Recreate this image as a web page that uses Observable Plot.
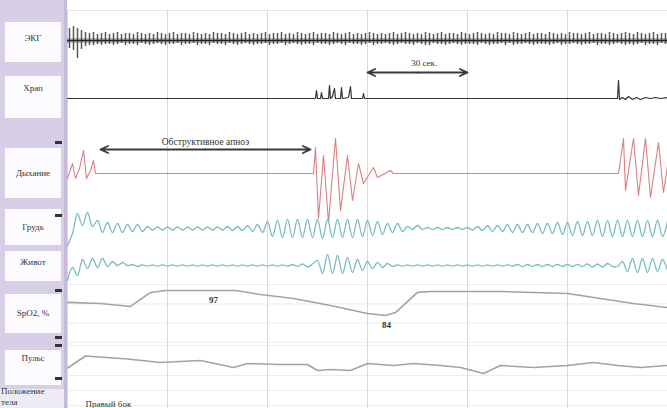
<!DOCTYPE html>
<html><head><meta charset="utf-8">
<script src="https://cdn.jsdelivr.net/npm/d3@7"></script>
<script src="https://cdn.jsdelivr.net/npm/@observablehq/plot@0.6"></script>
<style>
body{margin:0;background:#fff;}
#wrap{position:relative;width:667px;height:408px;overflow:hidden;font-family:"Liberation Serif",serif;background:#fff;}
#chart{position:absolute;left:0;top:0;}
#panel{position:absolute;left:0;top:0;width:64px;height:408px;background:#d8cee7;border-right:3px solid #c6b9dc;z-index:2;}
.box{position:absolute;left:5px;width:56px;background:#fcfbff;}
.lbl{position:absolute;left:0;width:66px;text-align:center;font-size:9px;color:#333;white-space:nowrap;}
.mk{position:absolute;left:55px;width:7px;height:3px;background:#333;}
</style></head><body>
<div id="wrap"><div id="chart"></div><div id="panel"></div></div>
<script>
// ---- channel labels ----
const channelLabels = ["ЭКГ","Храп","Дыхание","Грудь","Живот","SpO2, %","Пульс"];
const positionLabel = ["Положение","тела"];
const positionValue = "Правый бок";

// ---- grid (seconds) ----
const gridSeconds = [0,30,60,90,120,150];
const spo2GridPct = [100,90,80,70];
const pulseGridBpm = [80,60,50,40];

// ---- ECG: beats every 1.2 s, R (up) and S (down) deflections ----
const ecgR = [12,14,12,10,8,7,8,6,7,8, 6,7,8,6,7,7,6,8,7,6, 7,6,8,7,6,7,8,6,7,7, 6,8,7,6,7,6,8,7,7,6,
  8,7,6,7,8,6,7,6,7,8, 6,7,7,8,6,7,6,8,7,6, 7,8,6,7,7,6,8,7,6,7, 8,6,7,6,7,8,7,6,7,6,
  7,8,6,7,8,7,6,7,6,8, 7,6,7,8,6,7,7,6,8,7, 6,7,8,7,6,7,6,8,7,7, 6,8,7,6,7,8,6,7,7,6,
  8,7,6,7,6,8,7,7,6,7, 8,6,7,7,6,8,7,6,7,8, 7,6,8,7,6,7,8,6,7,7];
const ecgS = [8,10,18,9,6,5,5,4,5,4, 4,5,4,3,5,4,4,5,3,4, 5,4,3,4,5,4,4,3,5,4, 4,3,5,4,4,5,3,4,4,5,
  3,4,5,4,3,4,5,4,4,3, 5,4,4,3,5,4,3,4,5,4, 4,5,3,4,4,5,4,3,4,5, 3,4,4,5,4,3,5,4,4,3,
  4,5,4,3,4,4,5,3,4,5, 5,3,4,4,5,4,3,4,5,4, 4,4,5,3,4,5,4,4,3,5, 3,5,4,4,3,4,5,4,4,4,
  5,4,3,5,4,4,3,4,5,4, 4,3,5,4,4,5,4,3,4,5, 4,5,4,3,5,4,4,5,3,4];

// ---- Snoring (time s, amplitude) ----
const snoreT = [0,73.8,74.4,74.7,75,75.9,76.2,76.5,78.3,78.6,78.9,79.5,80.1,80.4,81.9,82.2,82.5,84.3,84.9,85.2,88.5,88.8,89.1,165,165.3,165.6,166.5,167.4,168.3,169.5,170.7,171.9,173.4,174.9,176.4,177.9,180];
const snoreV = [0,0,0,8,0,0,6,0,0,13,0,2,10,0,0,11,0,1,12,0,0,5,0,0,18,-1,1,-1,2,-1,1,-1,1,0,1,0,1];

// ---- Airflow "Дыхание" (time s, amplitude) ----
const respT = [0,1.5,2.4,3.6,4.8,5.7,6.9,7.8,8.4,73.8,74.4,75.3,76.8,78.3,80.4,81.9,84,85.5,87.3,88.8,91.8,93,96.9,97.8,165.3,165.9,166.8,167.4,169.8,171.3,173.4,174.9,177.3,178.8,180];
const respV = [-5,10,-5,5,23,-5,3,13,0,0,26,-45,18,-49,35,-37,18,-27,10,-10,6,-4,3,0,0,13,35,-17,35,-22,35,-24,31,-19,8];

// ---- Chest effort "Грудь", sampled every 1.5 s ----
const chest = [-17,-5,15,3,16,2,8,-4,6,-4, 5,-4,4,-3,4,-3,2,-1.5,1.5,-1.5,
  1.5,-1.5,1.5,-1.5,1.5,-1.5,1.5,-1.5,1.5,-1.5, 1.5,-1.5,2,-2,2,-2,3,-3,4,-4,
  7,-8,8,-9,9,-9,9,-9,9,-9, 9,-10,9,-9,9,-9,9,-9,9,-8,
  8,-7,7,-6,5,-4,5,-3,2,-1, 3,-1,1,-1,1,-1,1,-1,1,-1,
  1,-1.5,2,-2,3,-3,3,-3,4,-4, 4,-4,4,-4,5,-5,5,-5,6,-6,
  6,-7,7,-7,7,-7,8,-8,8,-8, 8,-8,8,-8,8,-8,8,-8,8,-8, 7];

// ---- Abdominal effort "Живот", sampled every 1.5 s ----
const abdomen = [-15,-2,-10,6,-3,7,-2,7,-1,4, 0,3,0,1,-1,0.7,-0.7,0.7,-0.7,0.7,
  -0.7,0.7,-0.7,0.7,-0.7,0.7,-0.7,0.7,-0.7,0.7, -0.7,0.7,-0.7,0.7,-0.7,0.7,-0.7,0.7,-0.7,0.7,
  -0.7,0.7,-0.7,0.7,-0.7,1,-1,1.5,-1.5,1.5, 5,-8,11,-8,10,-8,8,-7,6,-5,
  4,-3,3,-2,2,-1,0.7,-0.7,0.7,-0.7, 0.7,-0.7,0.7,-0.7,0.7,-0.7,0.7,-0.7,0.7,-0.7,
  0.7,-0.7,0.7,-0.7,0.7,-0.7,0.7,-0.7,0.7,-0.7, 1,-1,1,-1,1,-1,1,-1,1,-1,
  1.2,-1.2,1.2,-1.2,1.5,-1.5,1.5,-1.5,2,-1, -1,4,-6,7,-7,7,-7,7,-6,6, -5];

// ---- SpO2 (%) ----
const spo2T = [0,9.9,18.9,24.9,29.4,50.4,57.9,67.8,78.9,90,95.4,98.4,105,108.9,129.9,150,159.9,169.8,180];
const spo2V = [90.8,90.2,88.7,96,97,97,94.9,92.8,89.2,85,84,85.5,96,96.5,96.5,95.4,92.8,90.2,88.1];
const spo2Marks = [{t:43.8, v:97, label:"97"},{t:95.7, v:84, label:"84"}];

// ---- Pulse (bpm) ----
const pulseT = [0,5.4,18,27.9,39.9,49.8,54,63.9,72,75,78.9,84.9,90,97.8,103.8,111.9,117.9,124.8,129.9,139.8,150,157.8,165,171.9,180];
const pulseV = [65,73,71,68.7,70,65.3,68,67.3,67.3,63.3,64,63.3,68,66.7,68,66.7,65.3,61.3,66.7,65.3,66.7,68.7,66.7,65.3,66.7];

// ---- annotations ----
const apnea = {start: 9.9, end: 72.9, label: "Обструктивное апноэ"};
const scaleBar = {start: 90, end: 120, label: "30 сек."};

// ---- trace layout (vertical positions in px) ----
const L = {ecg:40, snore:98, resp:173, chest:228, abd:265, spo2Top:290, spo2Ref:97, spo2Gain:1.92, pulseMid:360, pulseRef:70, pulseGain:1.5};
const ySpo2 = v => L.spo2Top + (L.spo2Ref - v) * L.spo2Gain;
const yPulse = v => L.pulseMid - (v - L.pulseRef) * L.pulseGain;

const snore = snoreT.map((t,i)=>({t, v:snoreV[i]}));
const resp = respT.map((t,i)=>({t, v:respV[i]}));
const spo2 = spo2T.map((t,i)=>({t, v:spo2V[i]}));
const pulse = pulseT.map((t,i)=>({t, v:pulseV[i]}));
const ecg = ecgR.map((r,i)=>({t:0.6+i*1.2, r, s:ecgS[i]}));
const chestD = chest.map((v,i)=>({t:i*1.5, v}));
const abdD = abdomen.map((v,i)=>({t:i*1.5, v}));

const arrowStyle = {stroke:"#3a3a3a", strokeWidth:1.8, headLength:7, headAngle:50};
const mid = a => (a.start + a.end) / 2;

const plot = Plot.plot({
  width: 667, height: 408,
  marginLeft: 0, marginRight: 0, marginTop: 0, marginBottom: 0,
  x: {domain: [-20.1, 180], range: [0, 667], axis: null},
  y: {domain: [0, 408], range: [0, 408], axis: null},
  style: {fontFamily: "Liberation Serif, serif", background: "transparent"},
  marks: [
    Plot.ruleY([10], {x1: 0, x2: 180, stroke: "#e6e6e6"}),
    Plot.ruleY(spo2GridPct, {y: ySpo2, x1: 0, x2: 180, stroke: "#ececec"}),
    Plot.ruleY(pulseGridBpm, {y: yPulse, x1: 0, x2: 180, stroke: "#ececec"}),
    Plot.ruleX(gridSeconds, {x: d => d, y1: 10, y2: 408, stroke: "#d9d9d9"}),
    // ECG
    Plot.ruleY([L.ecg], {x1: 0, x2: 180, stroke: "#777", strokeWidth: 5, strokeOpacity: 0.45}),
    Plot.ruleX(ecg, {x: "t", y1: d => L.ecg - d.r, y2: d => L.ecg + d.s, stroke: "#3a3a3a", strokeWidth: 1.5, strokeOpacity: 0.85}),
    Plot.ruleY([L.ecg], {x1: 0, x2: 180, stroke: "#222", strokeWidth: 1.6}),
    // Snore
    Plot.line(snore, {x: "t", y: d => L.snore - d.v, stroke: "#333", strokeWidth: 1.2}),
    // Airflow
    Plot.line(resp, {x: "t", y: d => L.resp - d.v, stroke: "#d98080", strokeWidth: 1.1}),
    // Chest / abdomen
    Plot.line(chestD, {x: "t", y: d => L.chest - d.v, curve: "catmull-rom", stroke: "#79bdbf", strokeWidth: 1.3}),
    Plot.line(abdD, {x: "t", y: d => L.abd - d.v, curve: "catmull-rom", stroke: "#79bdbf", strokeWidth: 1.3}),
    // SpO2 and pulse
    Plot.line(spo2, {x: "t", y: d => ySpo2(d.v), stroke: "#a3a3a3", strokeWidth: 1.6}),
    Plot.text(spo2Marks, {x: "t", y: d => ySpo2(d.v) + 10, text: "label", fontSize: 9, fill: "#333", fontWeight: "bold"}),
    Plot.line(pulse, {x: "t", y: d => yPulse(d.v), stroke: "#a3a3a3", strokeWidth: 1.6}),
    // annotations
    Plot.arrow([apnea], {x1: mid, x2: "start", y1: 149, y2: 149, ...arrowStyle}),
    Plot.arrow([apnea], {x1: mid, x2: "end", y1: 149, y2: 149, ...arrowStyle}),
    Plot.text([apnea], {x: mid, y: 141, text: "label", fontSize: 9.5, fill: "#333"}),
    Plot.arrow([scaleBar], {x1: mid, x2: "start", y1: 72, y2: 72, ...arrowStyle}),
    Plot.arrow([scaleBar], {x1: mid, x2: "end", y1: 72, y2: 72, ...arrowStyle}),
    Plot.text([scaleBar], {x: d => mid(d) + 2, y: 63, text: "label", fontSize: 9, fill: "#333"}),
    Plot.text([positionValue], {x: 5.4, y: 404, text: d => d, textAnchor: "start", fontSize: 9, fill: "#333"})
  ]
});
document.getElementById("chart").append(plot);

// ---- left label panel ----
const panel = document.getElementById("panel");
const boxes = [[22,40,33],[76,42,83],[148,50,168],[209,36,222],[251,30,257],[294,39,308],[350,35,353]];
boxes.forEach(([top,h,ty],i)=>{
  const b = document.createElement("div"); b.className="box"; b.style.top=top+"px"; b.style.height=h+"px"; panel.append(b);
  const t = document.createElement("div"); t.className="lbl"; t.style.top=ty+"px"; t.textContent=channelLabels[i]; panel.append(t);
});
const pb = document.createElement("div"); pb.className="box"; pb.style.left="0px"; pb.style.width="64px"; pb.style.top="389px"; pb.style.height="19px"; pb.style.background="#efebf6"; panel.append(pb);
[[386],[397]].forEach(([ty],i)=>{
  const t = document.createElement("div"); t.className="lbl"; t.style.top=ty+"px"; t.style.textAlign="left"; t.style.left="1px"; t.textContent=positionLabel[i]; panel.append(t);
});
[141,214,289,336,344,377].forEach(y=>{const m=document.createElement("div"); m.className="mk"; m.style.top=y+"px"; panel.append(m);});
</script>
</body></html>
